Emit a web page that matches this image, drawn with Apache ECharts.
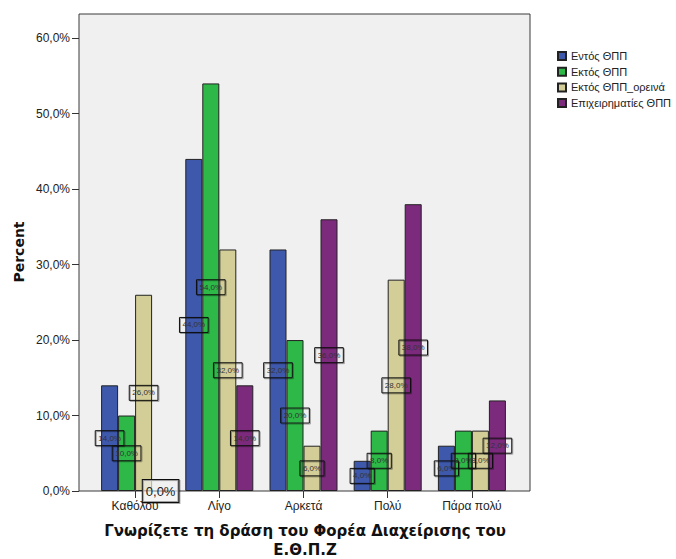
<!DOCTYPE html>
<html><head><meta charset="utf-8">
<script src="https://cdn.jsdelivr.net/npm/echarts@6/dist/echarts.min.js"></script>
<style>html,body{margin:0;padding:0;background:#fff}#c{width:676px;height:559px}</style>
</head><body><div id="c"></div>
<script>
const categories = ['Καθόλου', 'Λίγο', 'Αρκετά', 'Πολύ', 'Πάρα πολύ'];
const seriesNames = ['Εντός ΘΠΠ', 'Εκτός ΘΠΠ', 'Εκτός ΘΠΠ_ορεινά', 'Επιχειρηματίες ΘΠΠ'];
const entos = [14, 44, 32, 4, 6];
const ektos = [10, 54, 20, 8, 8];
const ektosOreina = [26, 32, 6, 28, 8];
const epixeirimaties = [0, 14, 36, 38, 12];
const yTicks = [0, 10, 20, 30, 40, 50, 60];
const yTitle = 'Percent';
const xTitleLine1 = 'Γνωρίζετε τη δράση του Φορέα Διαχείρισης του';
const xTitleLine2 = 'Ε.Θ.Π.Ζ';

const colors = ['#3e58ac', '#2eb848', '#d3ce97', '#7c2a7c'];
const FONT = '"Liberation Sans", Arial, sans-serif';
const BOLDFONT = '"DejaVu Sans", "Liberation Sans", sans-serif';
const fmt = v => v.toFixed(1).replace('.', ',') + '%';
const YMAX = 63.2;

const allValues = [entos, ektos, ektosOreina, epixeirimaties];

const series = allValues.map((vals, i) => ({
  name: seriesNames[i],
  type: 'bar',
  xAxisIndex: 1,
  yAxisIndex: 1,
  barWidth: 17,
  barGap: '0%',
  itemStyle: { color: colors[i], borderColor: '#222', borderWidth: 1 },
  label: {
    show: true,
    position: 'inside',
    formatter: p => fmt(p.value),
    fontFamily: FONT,
    fontSize: 8,
    lineHeight: 9,
    color: '#333',
    borderColor: '#111',
    borderWidth: 1,
    padding: [3, 3],
    shadowColor: 'rgba(0,0,0,0.35)',
    shadowOffsetX: 1,
    shadowOffsetY: 1,
    shadowBlur: 0
  },
  data: vals.map(v => v === 0 ? {
    value: v,
    label: { fontSize: 13, lineHeight: 14, padding: [4, 3], color: '#222', backgroundColor: 'rgba(255,255,255,0.6)' }
  } : v)
}));

const chart = echarts.init(document.getElementById('c'), null, { renderer: 'svg' });
chart.setOption({
  animation: false,
  backgroundColor: '#fff',
  grid: [
    { left: 79, top: 14, width: 451, height: 477, show: true, backgroundColor: '#f0f0f0', borderColor: '#3a3a3a', borderWidth: 1 },
    { left: 93, top: 14, width: 421, height: 477 }
  ],
  xAxis: [
    { type: 'value', gridIndex: 0, show: false, min: 0, max: 1 },
    {
      type: 'category', gridIndex: 1, data: categories,
      axisLine: { show: false },
      axisTick: { show: true, alignWithLabel: true, length: 7, lineStyle: { color: '#333', width: 1 } },
      axisLabel: { fontFamily: FONT, fontSize: 12, color: '#222', margin: 9 }
    }
  ],
  yAxis: [
    {
      type: 'value', gridIndex: 0, min: 0, max: YMAX, interval: 10,
      axisLine: { show: false },
      splitLine: { show: false },
      axisTick: { show: true, length: 7, customValues: yTicks, lineStyle: { color: '#333', width: 1 } },
      axisLabel: { customValues: yTicks, fontFamily: FONT, fontSize: 12, color: '#222', margin: 9,
        formatter: v => (Math.abs(v % 10) < 1e-9 ? fmt(v) : '') }
    },
    { type: 'value', gridIndex: 1, min: 0, max: YMAX, show: false }
  ],
  legend: {
    orient: 'vertical',
    left: 552,
    top: 45,
    itemWidth: 8,
    itemHeight: 8,
    itemGap: 3.7,
    icon: 'rect',
    data: seriesNames,
    textStyle: { fontFamily: FONT, fontSize: 11, lineHeight: 12, color: '#222' }
  },
  graphic: [
    { type: 'text', x: 19, y: 252, rotation: Math.PI / 2,
      style: { text: yTitle, font: 'bold 14px ' + BOLDFONT, fill: '#111', textAlign: 'center', textVerticalAlign: 'middle' } },
    { type: 'text', x: 305, y: 531,
      style: { text: xTitleLine1, font: 'bold 15px ' + BOLDFONT, fill: '#111', textAlign: 'center', textVerticalAlign: 'middle' } },
    { type: 'text', x: 305, y: 549.5,
      style: { text: xTitleLine2, font: 'bold 15px ' + BOLDFONT, fill: '#111', textAlign: 'center', textVerticalAlign: 'middle' } }
  ],
  series: series
});
</script>
</body></html>
